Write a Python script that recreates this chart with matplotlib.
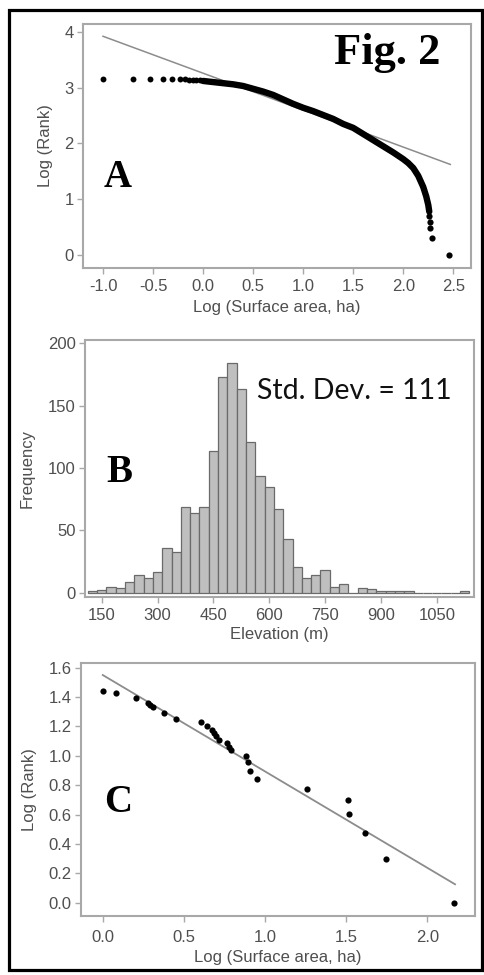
import matplotlib
matplotlib.use("Agg")
import matplotlib.pyplot as plt
from matplotlib.patches import Rectangle

# ---------------- Data ----------------
# Panel A: rank-size plot
a_dots_x = [-1.0, -0.70, -0.526, -0.40, -0.306, -0.233, -0.183, -0.14, -0.10, -0.066, -0.033]
a_dots_y = [3.16, 3.16, 3.16, 3.16, 3.155, 3.15, 3.15, 3.145, 3.14, 3.135, 3.13]
a_curve_x = [0.0, 0.1, 0.2, 0.3, 0.4, 0.5, 0.6, 0.7, 0.8, 0.9, 1.0, 1.1, 1.2, 1.3, 1.4,
             1.5, 1.6, 1.7, 1.8, 1.9, 2.0, 2.05, 2.1, 2.15, 2.2, 2.23, 2.25, 2.26]
a_curve_y = [3.12, 3.10, 3.08, 3.06, 3.03, 2.98, 2.93, 2.87, 2.79, 2.71, 2.64, 2.58, 2.51, 2.44, 2.35,
             2.28, 2.17, 2.06, 1.95, 1.84, 1.72, 1.65, 1.56, 1.42, 1.22, 1.05, 0.90, 0.78]
a_tail_x = [2.26, 2.265, 2.27, 2.29, 2.46]
a_tail_y = [0.70, 0.60, 0.48, 0.30, 0.0]
a_fit_x = [-1.0, 2.47]
a_fit_y = [3.92, 1.625]
a_xticks = [-1.0, -0.5, 0.0, 0.5, 1.0, 1.5, 2.0, 2.5]
a_yticks = [0, 1, 2, 3, 4]

# Panel B: elevation histogram (25 m bins)
b_centers = [125, 150, 175, 200, 225, 250, 275, 300, 325, 350, 375, 400, 425, 450, 475,
             500, 525, 550, 575, 600, 625, 650, 675, 700, 725, 750, 775, 800, 825, 850,
             875, 900, 925, 950, 975, 1000, 1025, 1050, 1075, 1100, 1125]
b_counts = [1, 2, 4.5, 4, 8.5, 14.5, 12, 17, 36, 33, 69, 64, 69, 114, 173,
            184, 163, 121, 94, 85, 67, 43, 21, 12, 14.5, 18, 4.5, 7, 0, 4,
            3, 1, 1, 1, 1, 0, 0, 0, 0, 0, 1]
b_xticks = [150, 300, 450, 600, 750, 900, 1050]
b_yticks = [0, 50, 100, 150, 200]

# Panel C: rank-size plot (subset)
c_x = [0.0, 0.082, 0.204, 0.276, 0.291, 0.308, 0.378, 0.45, 0.605, 0.641, 0.676, 0.686,
       0.70, 0.714, 0.764, 0.778, 0.788, 0.884, 0.895, 0.908, 0.949, 1.257, 1.514, 1.518,
       1.617, 1.744, 2.165]
c_y = [1.44, 1.43, 1.394, 1.359, 1.345, 1.33, 1.289, 1.248, 1.23, 1.204, 1.176, 1.157,
       1.135, 1.108, 1.085, 1.06, 1.04, 0.998, 0.96, 0.899, 0.841, 0.776, 0.699, 0.601,
       0.477, 0.295, 0.0]
c_fit_x = [0.0, 2.171]
c_fit_y = [1.55, 0.125]
c_xticks = [0.0, 0.5, 1.0, 1.5, 2.0]
c_yticks = [0.0, 0.2, 0.4, 0.6, 0.8, 1.0, 1.2, 1.4, 1.6]

# ---------------- Styling ----------------
W, H = 485, 975
fig = plt.figure(figsize=(W / 100, H / 100), dpi=100)
fig.patch.set_facecolor("white")

SPINE = "#a8a8a8"
TXT = "#4f4f4f"
FS = 12
sans = ["Liberation Sans", "DejaVu Sans"]
serif = ["Liberation Serif", "DejaVu Serif"]


def add_axes_px(left, top, right, bottom):
    return fig.add_axes([left / W, 1 - bottom / H, (right - left) / W, (bottom - top) / H])


def style(ax, xpad=3.5):
    for s in ax.spines.values():
        s.set_color(SPINE)
        s.set_linewidth(1.5)
    ax.tick_params(colors=SPINE, labelcolor=TXT, labelsize=FS, length=4, width=1.0, pad=2.5)
    ax.tick_params(axis="x", pad=xpad)
    for lab in ax.get_xticklabels() + ax.get_yticklabels():
        lab.set_family(sans)


# Figure border
fig.add_artist(Rectangle((9.5 / W, 1 - 969.5 / H), (482 - 9.5) / W, (969.5 - 9.5) / H,
                         transform=fig.transFigure, fill=False, edgecolor="black",
                         linewidth=2.3))

# ---- Panel A ----
axA = add_axes_px(83, 24, 471, 268)
axA.plot(a_fit_x, a_fit_y, color="#8c8c8c", lw=1.1, zorder=2)
axA.plot(a_curve_x, a_curve_y, color="black", lw=4.6, solid_capstyle="round", zorder=3)
axA.scatter(a_dots_x, a_dots_y, s=18, color="black", zorder=3, linewidths=0)
axA.scatter(a_tail_x, a_tail_y, s=20, color="black", zorder=3, linewidths=0)
axA.set_xlim(-1.2, 2.677)
axA.set_ylim(-0.23, 4.14)
axA.set_xticks(a_xticks)
axA.set_xticklabels([f"{v:.1f}" for v in a_xticks])
axA.set_yticks(a_yticks)
axA.set_xlabel("Log (Surface area, ha)", family=sans, fontsize=FS, color=TXT, labelpad=4)
axA.set_ylabel("Log (Rank)", family=sans, fontsize=FS, color=TXT, labelpad=8)
style(axA, xpad=4)
axA.text(0.92, 0.88, "Fig. 2", transform=axA.transAxes, family=serif, weight="bold",
         fontsize=32, ha="right", va="center", color="black")
axA.text(0.09, 0.37, "A", transform=axA.transAxes, family=serif, weight="bold",
         fontsize=28, ha="center", va="center", color="black")

# ---- Panel B ----
axB = add_axes_px(85, 340, 474, 596.7)
axB.bar(b_centers, b_counts, width=25, color="#bfbfbf", edgecolor="#6a6a6a", linewidth=0.9,
        zorder=2)
axB.set_xlim(105, 1150)
axB.set_ylim(-3.2, 202.7)
axB.set_xticks(b_xticks)
axB.set_yticks(b_yticks)
axB.set_xlabel("Elevation (m)", family=sans, fontsize=FS, color=TXT, labelpad=3)
axB.set_ylabel("Frequency", family=sans, fontsize=FS, color=TXT, labelpad=10)
style(axB, xpad=4)
axB.text(0.443, 0.80, "Std. Dev. = 111", transform=axB.transAxes,
         family=["Lato", "DejaVu Sans"], fontsize=20.5, ha="left", va="center", color="#111111")
axB.text(0.088, 0.485, "B", transform=axB.transAxes, family=serif, weight="bold",
         fontsize=28, ha="center", va="center", color="black")

# ---- Panel C ----
axC = add_axes_px(80.7, 662.7, 475, 916)
axC.plot(c_fit_x, c_fit_y, color="#8c8c8c", lw=1.3, zorder=2)
axC.scatter(c_x, c_y, s=20, color="black", zorder=3, linewidths=0)
axC.set_xlim(-0.136, 2.294)
axC.set_ylim(-0.091, 1.634)
axC.set_xticks(c_xticks)
axC.set_xticklabels([f"{v:.1f}" for v in c_xticks])
axC.set_yticks(c_yticks)
axC.set_yticklabels([f"{v:.1f}" for v in c_yticks])
axC.set_xlabel("Log (Surface area, ha)", family=sans, fontsize=FS, color=TXT, labelpad=4)
axC.set_ylabel("Log (Rank)", family=sans, fontsize=FS, color=TXT, labelpad=8)
style(axC, xpad=6)
axC.text(0.095, 0.45, "C", transform=axC.transAxes, family=serif, weight="bold",
         fontsize=28, ha="center", va="center", color="black")

fig.savefig("out.png", dpi=100, facecolor="white")
